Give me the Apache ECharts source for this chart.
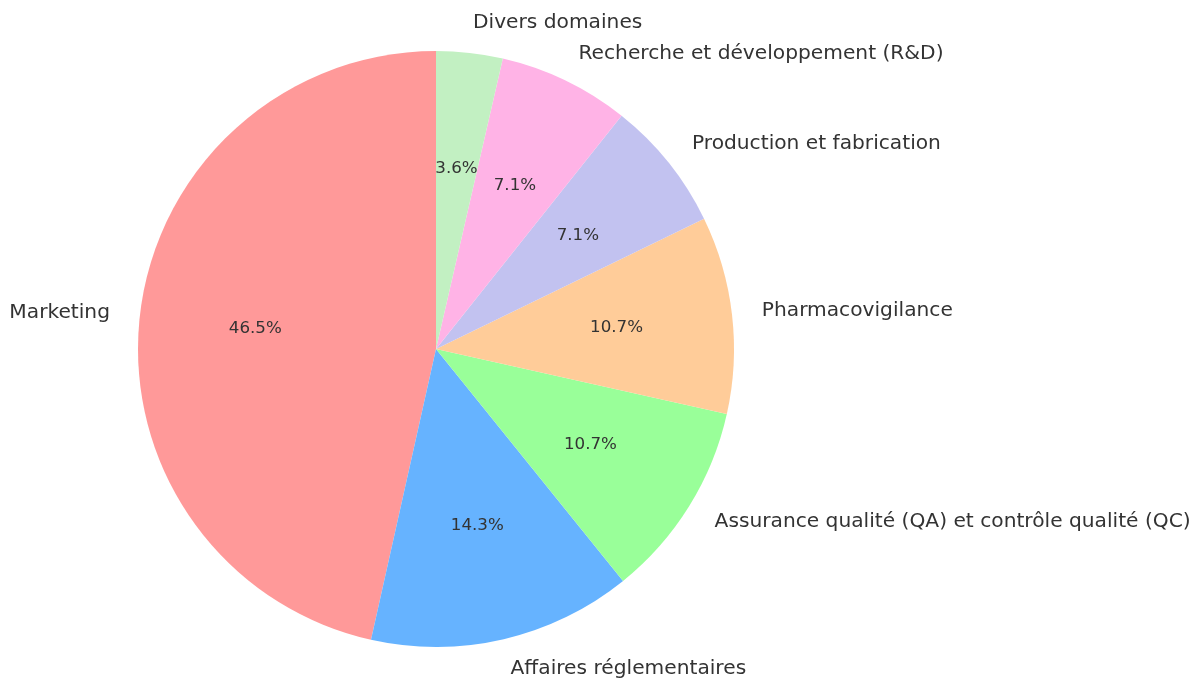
<!DOCTYPE html>
<html>
<head>
<meta charset="utf-8">
<script src="https://cdn.jsdelivr.net/npm/echarts@6/dist/echarts.min.js"></script>
<style>
  html, body { margin: 0; padding: 0; background: #fff; }
  #chart { width: 1201px; height: 682px; }
</style>
</head>
<body>
<div id="chart"></div>
<script>
// Data (percent shares, counter-clockwise from top)
const categories = [
    'Marketing',
    'Affaires réglementaires',
    'Assurance qualité (QA) et contrôle qualité (QC)',
    'Pharmacovigilance',
    'Production et fabrication',
    'Recherche et développement (R&D)',
    'Divers domaines'
];
const shares = [46.5, 14.3, 10.7, 10.7, 7.1, 7.1, 3.6];
const colors = ['#ff9999', '#66b3ff', '#99ff99', '#ffcc99', '#c2c2f0', '#ffb3e6', '#c2f0c2'];

const chart = echarts.init(document.getElementById('chart'));

const center = [436, 349];
const radius = 298;
const font = 'DejaVu Sans';

const pieData = categories.map((name, i) => ({
    name: name,
    value: shares[i],
    itemStyle: { color: colors[i] }
}));

const option = {
    animation: false,
    series: [
        {
            // slices with outside category labels
            type: 'pie',
            center: center,
            radius: radius,
            startAngle: 90,
            clockwise: false,
            avoidLabelOverlap: false,
            silent: true,
            data: pieData,
            label: {
                show: true,
                position: 'outside',
                formatter: '{b}',
                fontFamily: font,
                fontSize: 20.2,
                color: '#333',
                distanceToLabelLine: 0
            },
            labelLine: { show: false, length: 30, length2: 0 }
        },
        {
            // invisible ring used only to place percentage labels at 0.6r
            type: 'pie',
            center: center,
            radius: [radius * 0.2, radius],
            startAngle: 90,
            clockwise: false,
            silent: true,
            data: categories.map((name, i) => ({
                name: name,
                value: shares[i],
                itemStyle: { color: 'rgba(0,0,0,0)' }
            })),
            label: {
                show: true,
                position: 'inside',
                formatter: p => p.value.toFixed(1) + '%',
                fontFamily: font,
                fontSize: 16.7,
                color: '#333'
            },
            labelLine: { show: false }
        }
    ]
};

chart.setOption(option);
</script>
</body>
</html>
